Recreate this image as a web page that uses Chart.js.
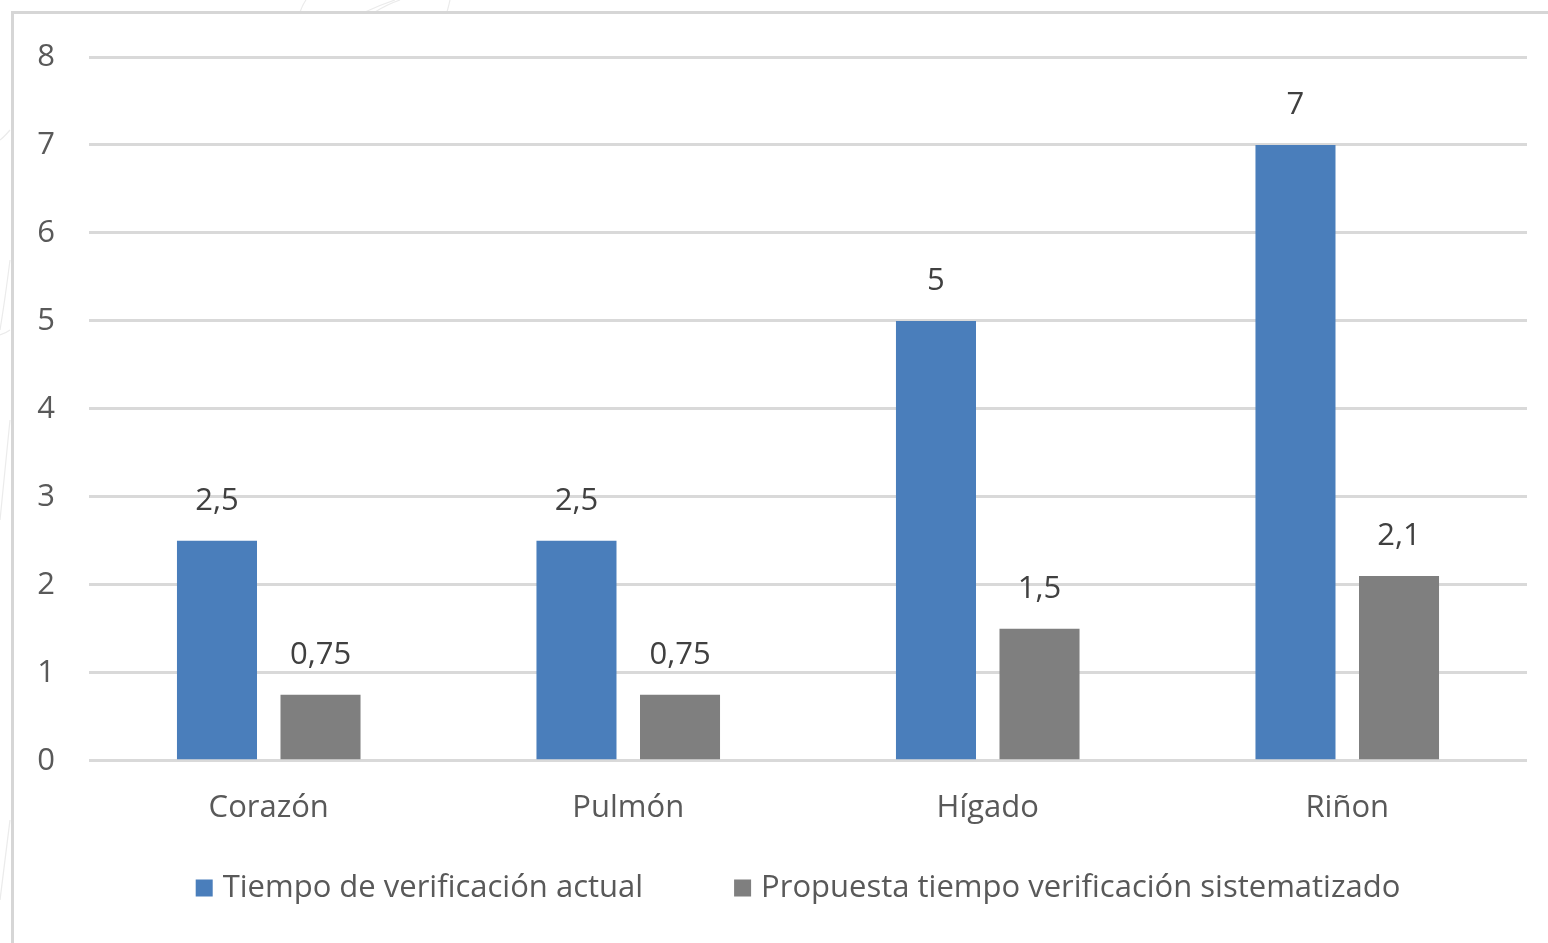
<!DOCTYPE html>
<html>
<head>
<meta charset="utf-8">
<script src="https://cdn.jsdelivr.net/npm/chart.js@4/dist/chart.umd.min.js"></script>
<style>
  html, body { margin: 0; padding: 0; background: #ffffff; }
  #wrap { width: 1548px; height: 943px; position: relative; }
</style>
</head>
<body>
<div id="wrap"><canvas id="c" width="1548" height="943"></canvas></div>
<script>
const categories = ['Corazón', 'Pulmón', 'Hígado', 'Riñon'];
const seriesNames = ['Tiempo de verificación actual', 'Propuesta tiempo verificación sistematizado'];
const actual = [2.5, 2.5, 5, 7];
const propuesta = [0.75, 0.75, 1.5, 2.1];
const yTicks = [0, 1, 2, 3, 4, 5, 6, 7, 8];
const seriesColors = ['#4a7ebb', '#7f7f7f'];

const FONT = "'Open Sans', 'Noto Sans', sans-serif";
const FONT_SIZE = 31;
const fmt = v => String(v).replace('.', ',');

// Page background, faint decorative strokes in the margin and the panel frame
const framePlugin = {
  id: 'frame',
  beforeDraw(chart) {
    const ctx = chart.ctx;
    const W = chart.width, H = chart.height;
    ctx.save();
    ctx.fillStyle = '#ffffff';
    ctx.fillRect(0, 0, W, H);

    ctx.strokeStyle = '#ebebeb';
    ctx.lineWidth = 1.2;
    const strokes = [
      [[300, 12], [303, 4], [306, 0]],
      [[365, 12], [380, 5], [395, 0]],
      [[375, 12], [388, 4], [400, 0]],
      [[447, 12], [449, 5], [450, 0]],
      [[10, 130], [4, 137], [0, 140]],
      [[10, 260], [5, 300], [0, 330]],
      [[10, 330], [6, 333], [0, 335]],
      [[10, 420], [5, 470], [0, 520]],
      [[10, 820], [5, 860], [0, 900]]
    ];
    strokes.forEach(s => {
      ctx.beginPath();
      ctx.moveTo(s[0][0], s[0][1]);
      ctx.quadraticCurveTo(s[1][0], s[1][1], s[2][0], s[2][1]);
      ctx.stroke();
    });

    ctx.fillStyle = '#ffffff';
    ctx.fillRect(12, 12, W, H);
    ctx.strokeStyle = '#d6d6d6';
    ctx.lineWidth = 3;
    ctx.strokeRect(12.5, 12.5, W + 20, H + 20);
    ctx.restore();
  }
};

// Legend row beneath the category labels
const legendRow = {
  id: 'legendRow',
  afterDraw(chart) {
    const ctx = chart.ctx;
    const area = chart.chartArea;
    const box = 17, textGap = 10, itemGap = 91;
    ctx.save();
    ctx.font = `${FONT_SIZE}px ${FONT}`;
    const widths = chart.data.datasets.map(ds => box + textGap + ctx.measureText(ds.label).width);
    const total = widths.reduce((a, b) => a + b, 0) + itemGap * (widths.length - 1);
    let x = (area.left + area.right) / 2 - 10 - total / 2;
    const y = 888;
    ctx.textBaseline = 'middle';
    ctx.textAlign = 'left';
    chart.data.datasets.forEach((ds, i) => {
      ctx.fillStyle = ds.backgroundColor;
      ctx.fillRect(x, y - box / 2, box, box);
      ctx.fillStyle = '#595959';
      ctx.fillText(ds.label, x + box + textGap, y);
      x += widths[i] + itemGap;
    });
    ctx.restore();
  }
};

// Value labels above each bar
const valueLabels = {
  id: 'valueLabels',
  afterDatasetsDraw(chart) {
    const ctx = chart.ctx;
    ctx.save();
    ctx.font = `${FONT_SIZE}px ${FONT}`;
    ctx.fillStyle = '#404040';
    ctx.textAlign = 'center';
    ctx.textBaseline = 'middle';
    chart.data.datasets.forEach((ds, i) => {
      chart.getDatasetMeta(i).data.forEach((bar, j) => {
        ctx.fillText(fmt(ds.data[j]), bar.x, bar.y - 40);
      });
    });
    ctx.restore();
  }
};

new Chart(document.getElementById('c'), {
  type: 'bar',
  data: {
    labels: categories,
    datasets: [
      { label: seriesNames[0], data: actual, backgroundColor: seriesColors[0] },
      { label: seriesNames[1], data: propuesta, backgroundColor: seriesColors[1] }
    ]
  },
  options: {
    responsive: false,
    animation: false,
    devicePixelRatio: 1,
    categoryPercentage: 0.576,
    barPercentage: 0.773,
    layout: { padding: { top: 57, right: 21, left: 0, bottom: 95 } },
    plugins: {
      legend: { display: false },
      tooltip: { enabled: false }
    },
    scales: {
      x: {
        grid: { display: false },
        border: { display: false },
        ticks: { color: '#595959', padding: 21, font: { family: FONT, size: FONT_SIZE } }
      },
      y: {
        min: 0,
        max: 8,
        afterFit(scale) { scale.width = 89; },
        afterBuildTicks(scale) { scale.ticks = yTicks.map(v => ({ value: v })); },
        grid: { color: '#d9d9d9', lineWidth: 3, drawTicks: false },
        border: { display: false },
        ticks: { color: '#595959', padding: 34, font: { family: FONT, size: FONT_SIZE } }
      }
    }
  },
  plugins: [framePlugin, legendRow, valueLabels]
});
</script>
</body>
</html>
